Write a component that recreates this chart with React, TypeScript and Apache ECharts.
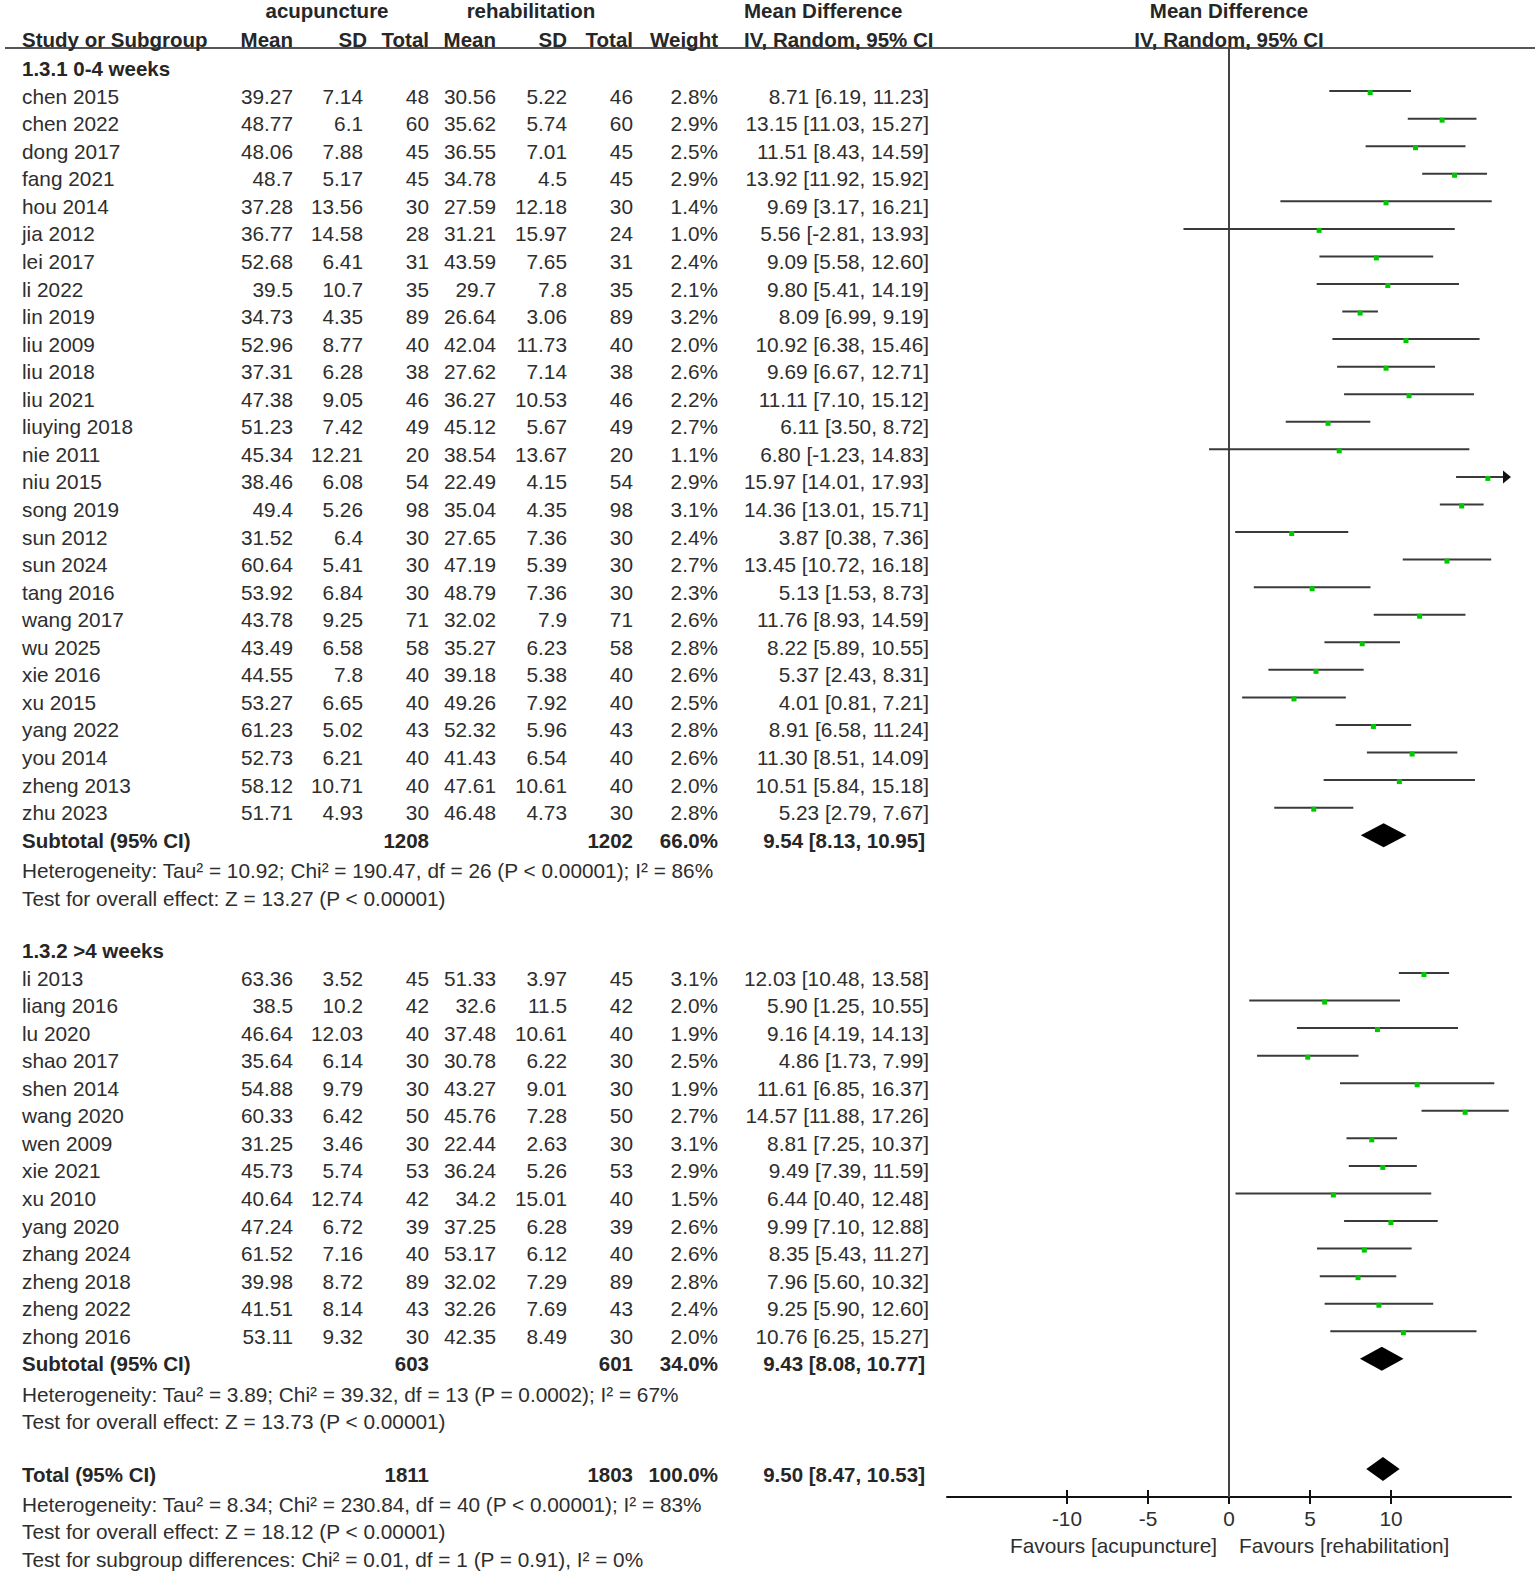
import React, { useEffect, useRef } from "react";
import * as echarts from "echarts";

// ---------------- DATA ----------------
const studies = [
  "chen 2015", "chen 2022", "dong 2017", "fang 2021", "hou 2014", "jia 2012", "lei 2017", "li 2022",
  "lin 2019", "liu 2009", "liu 2018", "liu 2021", "liuying 2018", "nie 2011", "niu 2015", "song 2019",
  "sun 2012", "sun 2024", "tang 2016", "wang 2017", "wu 2025", "xie 2016", "xu 2015", "yang 2022",
  "you 2014", "zheng 2013", "zhu 2023",
  "li 2013", "liang 2016", "lu 2020", "shao 2017", "shen 2014", "wang 2020", "wen 2009", "xie 2021",
  "xu 2010", "yang 2020", "zhang 2024", "zheng 2018", "zheng 2022", "zhong 2016",
];
const acuMean = [
  39.27, 48.77, 48.06, 48.7, 37.28, 36.77, 52.68, 39.5, 34.73, 52.96, 37.31, 47.38, 51.23, 45.34, 38.46, 49.4,
  31.52, 60.64, 53.92, 43.78, 43.49, 44.55, 53.27, 61.23, 52.73, 58.12, 51.71,
  63.36, 38.5, 46.64, 35.64, 54.88, 60.33, 31.25, 45.73, 40.64, 47.24, 61.52, 39.98, 41.51, 53.11,
];
const acuSD = [
  7.14, 6.1, 7.88, 5.17, 13.56, 14.58, 6.41, 10.7, 4.35, 8.77, 6.28, 9.05, 7.42, 12.21, 6.08, 5.26,
  6.4, 5.41, 6.84, 9.25, 6.58, 7.8, 6.65, 5.02, 6.21, 10.71, 4.93,
  3.52, 10.2, 12.03, 6.14, 9.79, 6.42, 3.46, 5.74, 12.74, 6.72, 7.16, 8.72, 8.14, 9.32,
];
const acuTotal = [
  48, 60, 45, 45, 30, 28, 31, 35, 89, 40, 38, 46, 49, 20, 54, 98,
  30, 30, 30, 71, 58, 40, 40, 43, 40, 40, 30,
  45, 42, 40, 30, 30, 50, 30, 53, 42, 39, 40, 89, 43, 30,
];
const rehMean = [
  30.56, 35.62, 36.55, 34.78, 27.59, 31.21, 43.59, 29.7, 26.64, 42.04, 27.62, 36.27, 45.12, 38.54, 22.49, 35.04,
  27.65, 47.19, 48.79, 32.02, 35.27, 39.18, 49.26, 52.32, 41.43, 47.61, 46.48,
  51.33, 32.6, 37.48, 30.78, 43.27, 45.76, 22.44, 36.24, 34.2, 37.25, 53.17, 32.02, 32.26, 42.35,
];
const rehSD = [
  5.22, 5.74, 7.01, 4.5, 12.18, 15.97, 7.65, 7.8, 3.06, 11.73, 7.14, 10.53, 5.67, 13.67, 4.15, 4.35,
  7.36, 5.39, 7.36, 7.9, 6.23, 5.38, 7.92, 5.96, 6.54, 10.61, 4.73,
  3.97, 11.5, 10.61, 6.22, 9.01, 7.28, 2.63, 5.26, 15.01, 6.28, 6.12, 7.29, 7.69, 8.49,
];
const rehTotal = [
  46, 60, 45, 45, 30, 24, 31, 35, 89, 40, 38, 46, 49, 20, 54, 98,
  30, 30, 30, 71, 58, 40, 40, 43, 40, 40, 30,
  45, 42, 40, 30, 30, 50, 30, 53, 40, 39, 40, 89, 43, 30,
];
const weights = [
  2.8, 2.9, 2.5, 2.9, 1.4, 1.0, 2.4, 2.1, 3.2, 2.0, 2.6, 2.2, 2.7, 1.1, 2.9, 3.1,
  2.4, 2.7, 2.3, 2.6, 2.8, 2.6, 2.5, 2.8, 2.6, 2.0, 2.8,
  3.1, 2.0, 1.9, 2.5, 1.9, 2.7, 3.1, 2.9, 1.5, 2.6, 2.6, 2.8, 2.4, 2.0,
];
const meanDiff = [
  8.71, 13.15, 11.51, 13.92, 9.69, 5.56, 9.09, 9.80, 8.09, 10.92, 9.69, 11.11, 6.11, 6.80, 15.97, 14.36,
  3.87, 13.45, 5.13, 11.76, 8.22, 5.37, 4.01, 8.91, 11.30, 10.51, 5.23,
  12.03, 5.90, 9.16, 4.86, 11.61, 14.57, 8.81, 9.49, 6.44, 9.99, 8.35, 7.96, 9.25, 10.76,
];
const ciLow = [
  6.19, 11.03, 8.43, 11.92, 3.17, -2.81, 5.58, 5.41, 6.99, 6.38, 6.67, 7.10, 3.50, -1.23, 14.01, 13.01,
  0.38, 10.72, 1.53, 8.93, 5.89, 2.43, 0.81, 6.58, 8.51, 5.84, 2.79,
  10.48, 1.25, 4.19, 1.73, 6.85, 11.88, 7.25, 7.39, 0.40, 7.10, 5.43, 5.60, 5.90, 6.25,
];
const ciHigh = [
  11.23, 15.27, 14.59, 15.92, 16.21, 13.93, 12.60, 14.19, 9.19, 15.46, 12.71, 15.12, 8.72, 14.83, 17.93, 15.71,
  7.36, 16.18, 8.73, 14.59, 10.55, 8.31, 7.21, 11.24, 14.09, 15.18, 7.67,
  13.58, 10.55, 14.13, 7.99, 16.37, 17.26, 10.37, 11.59, 12.48, 12.88, 11.27, 10.32, 12.60, 15.27,
];

const groupTitles = ["1.3.1 0-4 weeks", "1.3.2 >4 weeks"];
const groupSizes = [27, 14];
const subAcuTotal = [1208, 603];
const subRehTotal = [1202, 601];
const subWeight = [66.0, 34.0];
const subMD = [9.54, 9.43];
const subLow = [8.13, 8.08];
const subHigh = [10.95, 10.77];
const subHeterogeneity = [
  "Heterogeneity: Tau² = 10.92; Chi² = 190.47, df = 26 (P < 0.00001); I² = 86%",
  "Heterogeneity: Tau² = 3.89; Chi² = 39.32, df = 13 (P = 0.0002); I² = 67%",
];
const subOverall = [
  "Test for overall effect: Z = 13.27 (P < 0.00001)",
  "Test for overall effect: Z = 13.73 (P < 0.00001)",
];
const totalAcu = 1811;
const totalReh = 1803;
const totalWeight = 100.0;
const totalMD = [9.50];
const totalLow = [8.47];
const totalHigh = [10.53];
const totalNotes = [
  "Heterogeneity: Tau² = 8.34; Chi² = 230.84, df = 40 (P < 0.00001); I² = 83%",
  "Test for overall effect: Z = 18.12 (P < 0.00001)",
  "Test for subgroup differences: Chi² = 0.01, df = 1 (P = 0.91), I² = 0%",
];
const xTicks = [-10, -5, 0, 5, 10];
const xLabelsFavour = ["Favours [acupuncture]", "Favours [rehabilitation]"];

// ---------------- LAYOUT ----------------
const FONT = "'Liberation Sans', Arial, Helvetica, sans-serif";
const FS = 20.8;
const FS_BOLD = 20.5;
const TEXT_COLOR = "#2e2e2e";
const BOLD_COLOR = "#262626";
const ROW0 = 8.4;
const ROW_H = 27.56;
const TEXT_DY = 5;
const PLOT_LEFT = 947;
const PLOT_RIGHT = 1511;
const PLOT_TOP = 48;
const PLOT_BOTTOM = 1497;
const X_MIN = -17.4;
const X_MAX = 17.4;
const Y_MIN = (PLOT_TOP - ROW0) / ROW_H;
const Y_MAX = (PLOT_BOTTOM - ROW0) / ROW_H;

const COL = {
  name: 22, acuMean: 293, acuSD: 363, acuN: 429, rehMean: 496, rehSD: 567, rehN: 633,
  weight: 718, ci: 929, mdHead: 744, acuHead: 327, rehHead: 531,
};

type Cell = { t: string; x: number; align: "left" | "right" | "center"; bold?: boolean; zero?: boolean };
type Row = { r: number; cells: Cell[] };

const fmtCI = (m: number, l: number, h: number) => `${m.toFixed(2)} [${l.toFixed(2)}, ${h.toFixed(2)}]`;

const textRows: Row[] = [];
const forestData: number[][] = [];
const diamondData: number[][] = [];

textRows.push({
  r: -0.1,
  cells: [
    { t: "acupuncture", x: COL.acuHead, align: "center", bold: true },
    { t: "rehabilitation", x: COL.rehHead, align: "center", bold: true },
    { t: "Mean Difference", x: COL.mdHead, align: "left", bold: true },
    { t: "Mean Difference", x: 0, align: "center", bold: true, zero: true },
  ],
});
textRows.push({
  r: 0.95,
  cells: [
    { t: "Study or Subgroup", x: COL.name, align: "left", bold: true },
    { t: "Mean", x: COL.acuMean, align: "right", bold: true },
    { t: "SD", x: COL.acuSD + 4, align: "right", bold: true },
    { t: "Total", x: COL.acuN, align: "right", bold: true },
    { t: "Mean", x: COL.rehMean, align: "right", bold: true },
    { t: "SD", x: COL.rehSD, align: "right", bold: true },
    { t: "Total", x: COL.rehN, align: "right", bold: true },
    { t: "Weight", x: COL.weight, align: "right", bold: true },
    { t: "IV, Random, 95% CI", x: COL.mdHead, align: "left", bold: true },
    { t: "IV, Random, 95% CI", x: 0, align: "center", bold: true, zero: true },
  ],
});

let r = 2;
let idx = 0;
groupTitles.forEach((title, g) => {
  textRows.push({ r, cells: [{ t: title, x: COL.name, align: "left", bold: true }] });
  r++;
  for (let k = 0; k < groupSizes[g]; k++, idx++, r++) {
    textRows.push({
      r,
      cells: [
        { t: studies[idx], x: COL.name, align: "left" },
        { t: String(acuMean[idx]), x: COL.acuMean, align: "right" },
        { t: String(acuSD[idx]), x: COL.acuSD, align: "right" },
        { t: String(acuTotal[idx]), x: COL.acuN, align: "right" },
        { t: String(rehMean[idx]), x: COL.rehMean, align: "right" },
        { t: String(rehSD[idx]), x: COL.rehSD, align: "right" },
        { t: String(rehTotal[idx]), x: COL.rehN, align: "right" },
        { t: `${weights[idx].toFixed(1)}%`, x: COL.weight, align: "right" },
        { t: fmtCI(meanDiff[idx], ciLow[idx], ciHigh[idx]), x: COL.ci, align: "right" },
      ],
    });
    forestData.push([meanDiff[idx], ciLow[idx], ciHigh[idx], r]);
  }
  textRows.push({
    r,
    cells: [
      { t: "Subtotal (95% CI)", x: COL.name, align: "left", bold: true },
      { t: String(subAcuTotal[g]), x: COL.acuN, align: "right", bold: true },
      { t: String(subRehTotal[g]), x: COL.rehN, align: "right", bold: true },
      { t: `${subWeight[g].toFixed(1)}%`, x: COL.weight, align: "right", bold: true },
      { t: fmtCI(subMD[g], subLow[g], subHigh[g]), x: COL.ci - 4, align: "right", bold: true },
    ],
  });
  diamondData.push([subMD[g], subLow[g], subHigh[g], r]);
  r++;
  textRows.push({ r: r + 0.1, cells: [{ t: subHeterogeneity[g], x: COL.name, align: "left" }] });
  r++;
  textRows.push({ r: r + 0.1, cells: [{ t: subOverall[g], x: COL.name, align: "left" }] });
  r++;
  r++;
});

textRows.push({
  r,
  cells: [
    { t: "Total (95% CI)", x: COL.name, align: "left", bold: true },
    { t: String(totalAcu), x: COL.acuN, align: "right", bold: true },
    { t: String(totalReh), x: COL.rehN, align: "right", bold: true },
    { t: `${totalWeight.toFixed(1)}%`, x: COL.weight, align: "right", bold: true },
    { t: fmtCI(totalMD[0], totalLow[0], totalHigh[0]), x: COL.ci - 4, align: "right", bold: true },
  ],
});
diamondData.push([totalMD[0], totalLow[0], totalHigh[0], r]);
totalNotes.forEach((note, i) => {
  textRows.push({ r: r + 1.1 + i, cells: [{ t: note, x: COL.name, align: "left" }] });
});
textRows.push({
  r: r + 2.6,
  cells: [
    { t: xLabelsFavour[0], x: -12, align: "right", zero: true },
    { t: xLabelsFavour[1], x: 10, align: "left", zero: true },
  ],
});

// ---------------- COMPONENT ----------------
export default function App() {
  const ref = useRef<HTMLDivElement>(null);

  useEffect(() => {
    if (!ref.current) return;
    const chart = echarts.init(ref.current, undefined, { renderer: "svg" });

    const tickAxisCommon = {
      type: "value",
      min: X_MIN,
      max: X_MAX,
      position: "bottom",
      splitLine: { show: false },
    };

    const option: any = {
      animation: false,
      textStyle: { fontFamily: FONT },
      grid: {
        left: PLOT_LEFT,
        top: PLOT_TOP,
        width: PLOT_RIGHT - PLOT_LEFT,
        height: PLOT_BOTTOM - PLOT_TOP,
        containLabel: false,
      },
      xAxis: [
        {
          ...tickAxisCommon,
          axisLine: { show: true, onZero: false, lineStyle: { color: "#111", width: 2 } },
          axisTick: { show: true, inside: false, length: 7, customValues: xTicks, lineStyle: { color: "#111", width: 2 } },
          axisLabel: { show: true, customValues: xTicks, fontSize: FS, color: TEXT_COLOR, margin: 11, fontFamily: FONT },
        },
        {
          ...tickAxisCommon,
          axisLine: { show: false, onZero: false },
          axisTick: { show: true, inside: true, length: 7, customValues: xTicks, lineStyle: { color: "#111", width: 2 } },
          axisLabel: { show: false },
        },
      ],
      yAxis: { type: "value", inverse: true, min: Y_MIN, max: Y_MAX, show: false },
      graphic: [
        {
          type: "line",
          shape: { x1: 5, y1: PLOT_TOP, x2: 1535, y2: PLOT_TOP },
          style: { stroke: "#555", lineWidth: 2 },
          silent: true,
        },
      ],
      series: [
        {
          type: "line",
          xAxisIndex: 0,
          data: [[0, Y_MIN], [0, Y_MAX]],
          symbol: "none",
          silent: true,
          lineStyle: { color: "#444", width: 2 },
          z: 1,
        },
        {
          type: "custom",
          xAxisIndex: 0,
          encode: { x: [0, 1, 2], y: 3 },
          data: forestData,
          silent: true,
          clip: false,
          renderItem: (params: any, api: any) => {
            const m = api.value(0);
            const lo = api.value(1);
            const hi = api.value(2);
            const row = api.value(3);
            const y = api.coord([0, row])[1];
            const x1 = api.coord([Math.max(lo, X_MIN), row])[0];
            const clipped = hi > X_MAX;
            const x2 = api.coord([Math.min(hi, X_MAX), row])[0];
            const cx = api.coord([m, row])[0];
            const children: any[] = [
              {
                type: "line",
                shape: { x1, y1: y, x2: clipped ? x2 - 4 : x2, y2: y },
                style: { stroke: "#3a3a3a", lineWidth: 2 },
              },
              {
                type: "rect",
                shape: { x: cx - 2.5, y: y - 1, width: 5, height: 5 },
                style: { fill: "#00c800" },
              },
            ];
            if (clipped) {
              children.push({
                type: "polygon",
                shape: { points: [[x2, y], [x2 - 8, y - 6.5], [x2 - 8, y + 6.5]] },
                style: { fill: "#111" },
              });
            }
            return { type: "group", children };
          },
          z: 3,
        },
        {
          type: "custom",
          xAxisIndex: 0,
          encode: { x: [0, 1, 2], y: 3 },
          data: diamondData,
          silent: true,
          clip: false,
          renderItem: (params: any, api: any) => {
            const row = api.value(3);
            const y = api.coord([0, row])[1];
            const xm = api.coord([api.value(0), row])[0];
            const xl = api.coord([api.value(1), row])[0];
            const xh = api.coord([api.value(2), row])[0];
            return {
              type: "polygon",
              shape: { points: [[xl, y], [xm, y - 12], [xh, y], [xm, y + 12]] },
              style: { fill: "#000" },
            };
          },
          z: 3,
        },
        {
          type: "custom",
          xAxisIndex: 0,
          encode: { x: 0, y: 1 },
          data: textRows.map((row) => [0, row.r]),
          silent: true,
          clip: false,
          renderItem: (params: any, api: any) => {
            const row = textRows[params.dataIndex];
            const p = api.coord([0, row.r]);
            const y = p[1] + TEXT_DY;
            return {
              type: "group",
              children: row.cells.map((c) => ({
                type: "text",
                x: c.zero ? p[0] + c.x : c.x,
                y,
                style: {
                  text: c.t,
                  fill: c.bold ? BOLD_COLOR : TEXT_COLOR,
                  fontSize: c.bold ? FS_BOLD : FS,
                  fontFamily: FONT,
                  fontWeight: c.bold ? "bold" : "normal",
                  align: c.align,
                  verticalAlign: "middle",
                },
              })),
            };
          },
          z: 4,
        },
      ],
    };

    chart.setOption(option);
    return () => chart.dispose();
  }, []);

  return (
    <div
      ref={ref}
      style={{ position: "absolute", left: 0, top: 0, width: 1535, height: 1572, background: "#fff" }}
    />
  );
}
